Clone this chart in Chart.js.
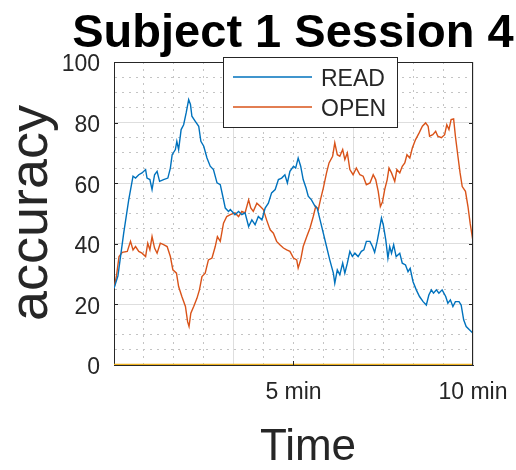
<!DOCTYPE html>
<html><head><meta charset="utf-8">
<script src="https://cdn.jsdelivr.net/npm/chart.js@4.4.0/dist/chart.umd.min.js"></script>
<style>html,body{margin:0;padding:0;background:#fff;}canvas{display:block;}</style>
</head><body>
<canvas id="c" width="516" height="470"></canvas>
<script>
const chartTitle = 'Subject 1 Session 4';
const xTitle = 'Time';
const yTitle = 'accuracy';
const seriesNames = ['READ', 'OPEN'];
const xGridTicks = [0, 0.8333, 1.6667, 2.5, 3.3333, 4.1667, 5, 5.8333, 6.6667, 7.5, 8.3333, 9.1667, 10];
const xTickLabels = {5: '5 min', 10: '10 min'};
const yGridTicks = [0, 5, 10, 15, 20, 25, 30, 35, 40, 45, 50, 55, 60, 65, 70, 75, 80, 85, 90, 95, 100];
const yTickLabels = [0, 20, 40, 60, 80, 100];

const readT = [0.00,0.11,0.27,0.41,0.53,0.60,0.69,0.78,0.88,0.92,1.00,1.06,1.13,1.20,1.27,1.38,1.50,1.57,1.62,1.71,1.75,1.80,1.87,1.94,2.01,2.08,2.13,2.17,2.26,2.36,2.42,2.50,2.59,2.68,2.77,2.87,2.96,3.03,3.10,3.19,
3.24,3.37,3.47,3.56,3.65,3.75,3.84,3.93,4.02,4.12,4.21,4.30,4.39,4.49,4.58,4.67,4.76,4.83,4.90,5.00,5.06,5.13,5.20,5.27,5.35,5.41,5.50,5.60,5.66,5.74,5.83,5.92,6.01,6.11,6.15,6.22,6.29,6.37,6.43,6.50,
6.57,6.64,6.71,6.80,6.89,6.96,7.03,7.13,7.20,7.26,7.33,7.40,7.45,7.50,7.57,7.63,7.68,7.73,7.79,7.86,7.96,8.03,8.12,8.19,8.25,8.33,8.42,8.51,8.61,8.70,8.77,8.84,8.90,8.98,9.05,9.14,9.24,9.30,9.37,9.44,9.51,9.61,9.67,9.74,9.81,9.90,10.00];
const readV = [25.3,29.4,43.5,54.5,62.3,61.7,62.8,63.4,64.5,61.7,61.2,57.9,62.8,63.9,60.6,61.2,61.7,65,69.4,71.1,73.8,71.1,77.7,79.3,83.2,87.6,86,82.1,80.5,78.8,73.8,72.2,68.3,65.6,64.5,60.1,59.5,55.7,51.8,50.7,
51.3,49.6,50.7,49.6,50.2,45.7,47.9,46.3,49,47.9,51.8,53.4,56.8,57.9,61.2,61.7,62.8,60.1,63.9,65.6,65,68.3,65.6,61.2,58.4,55.7,54.5,52.4,51.8,47.9,43.5,39.1,34.7,30.3,27,31.4,29.8,33.6,30.3,33.6,
37.5,35.8,36.9,35.8,37.5,38,40.8,40.8,39.1,37.2,40.8,45.2,48.5,46.3,41.3,35.3,39.1,36.9,39.7,35.8,36.9,33.6,33,30.8,31.9,27.5,24.8,22.6,20.9,19.8,23.1,24.8,23.7,24.8,23.7,24.8,22.6,20.4,21.5,19.3,20.9,20.9,19.8,14.9,12.7,11.6,10.5];

const openT = [0.00,0.07,0.14,0.23,0.37,0.46,0.53,0.60,0.69,0.78,0.88,0.94,1.00,1.06,1.13,1.20,1.29,1.38,1.48,1.57,1.64,1.74,1.80,1.89,1.99,2.05,2.09,2.14,2.22,2.31,2.38,2.45,2.54,2.63,2.73,2.82,2.88,2.96,3.05,3.14,
3.24,3.37,3.47,3.56,3.65,3.75,3.81,3.88,3.98,4.07,4.16,4.25,4.35,4.44,4.53,4.62,4.72,4.81,4.90,5.00,5.09,5.13,5.20,5.27,5.37,5.46,5.55,5.62,5.69,5.75,5.83,5.92,5.99,6.09,6.15,6.22,6.29,6.37,6.43,6.50,
6.57,6.66,6.75,6.85,6.94,7.03,7.13,7.22,7.29,7.36,7.42,7.48,7.54,7.61,7.66,7.73,7.82,7.88,7.96,8.03,8.10,8.16,8.24,8.31,8.40,8.50,8.59,8.68,8.75,8.79,8.88,8.96,9.02,9.12,9.21,9.27,9.33,9.39,9.46,9.51,9.58,9.64,9.70,9.79,9.86,9.92,10.00];
const openV = [25.3,29.5,35.8,37.2,37.5,40.8,38,39.1,37.5,36.9,35.8,40.2,38,42.4,38.6,36.9,40.2,39.7,39.1,35.8,31.4,30.3,25.9,22.6,19.3,14.3,12.7,17.1,19.3,22,24.8,29.2,30.3,34.7,35.3,39.1,42.4,40.8,46.8,49,
49.6,50.2,49,50.7,50.2,54.5,51.8,50.7,53.4,52.4,51.3,47.9,44.6,43.5,40.8,39.7,38.6,38,37.5,35.3,34.7,32,34.7,39.1,42.4,45.2,49,52.4,51.3,54.5,58.4,63.4,66.7,68.9,73.3,69.4,68.9,71.1,67.8,70,
64.5,62.8,65,62.8,62.3,59.5,60.1,62.8,61.2,57.3,52.3,53.9,57.9,61.2,65,63.4,60.6,64.5,63.4,65.6,66.7,69.4,68.3,71.6,74.4,76.6,78.8,79.9,78.8,75.5,76,77.1,75.5,75,76,79.3,77.7,81,81.2,75.5,68.9,63.4,58.9,57.3,52.3,46.8,40.8];

const baseT = [0, 10];
const baseV = [0, 0];

const FONT = '"Liberation Sans", Arial, Helvetica, sans-serif';
const AX = '#262626';
const toPts = (t, v) => t.map((tt, i) => ({x: tt, y: v[i]}));

const dashFor = (every) => (ctx) => (ctx.type === 'tick' && ctx.index % every !== 0) ? [2, 5] : [];
const gridColor = (every) => (ctx) => (ctx.index % every === 0) ? '#dedede' : '#c4c4c4';

const decor = {
  id: 'decor',
  afterDatasetsDraw(chart) {
    const {ctx, chartArea: a, scales: {x, y}} = chart;
    ctx.save();
    ctx.strokeStyle = AX; ctx.lineWidth = 1;
    ctx.beginPath();
    ctx.moveTo(a.left, a.top + 0.5); ctx.lineTo(a.right, a.top + 0.5);
    ctx.moveTo(a.right - 0.5, a.top); ctx.lineTo(a.right - 0.5, a.bottom);
    yTickLabels.forEach(v => {
      const py = Math.round(y.getPixelForValue(v)) + 0.5;
      ctx.moveTo(a.left, py); ctx.lineTo(a.left + 4, py);
      ctx.moveTo(a.right, py); ctx.lineTo(a.right - 4, py);
    });
    Object.keys(xTickLabels).forEach(k => {
      const px = Math.round(x.getPixelForValue(+k)) - 0.5;
      ctx.moveTo(px, a.bottom); ctx.lineTo(px, a.bottom - 4);
      ctx.moveTo(px, a.top); ctx.lineTo(px, a.top + 4);
    });
    ctx.stroke();
    ctx.restore();
  },
  afterDraw(chart) {
    const {ctx, chartArea: a} = chart;
    ctx.save();
    // legend
    const lx = 223, ly = 57, lw = 174, lh = 70;
    ctx.fillStyle = '#fff';
    ctx.fillRect(lx, ly, lw, lh);
    ctx.strokeStyle = AX; ctx.lineWidth = 1;
    ctx.strokeRect(lx + 0.5, ly + 0.5, lw, lh);
    ctx.font = '23px ' + FONT;
    ctx.textBaseline = 'alphabetic'; ctx.textAlign = 'left';
    [0, 1].forEach(i => {
      const ds = chart.data.datasets[i];
      const cy = 77 + i * 30;
      ctx.strokeStyle = ds.borderColor; ctx.lineWidth = 1.4;
      ctx.beginPath(); ctx.moveTo(233, cy); ctx.lineTo(312, cy); ctx.stroke();
      ctx.fillStyle = AX;
      ctx.fillText(ds.label, 321, cy + 9);
    });
    // titles
    ctx.fillStyle = '#000';
    ctx.textAlign = 'center';
    ctx.font = 'bold 47px ' + FONT;
    ctx.fillText(chartTitle, 293, 47);
    ctx.fillStyle = AX;
    ctx.font = '44px ' + FONT;
    ctx.fillText(xTitle, 308, 460);
    ctx.font = '54px ' + FONT;
    ctx.translate(47, 213);
    ctx.rotate(-Math.PI / 2);
    ctx.fillText(yTitle, 0, 0);
    ctx.restore();
  }
};

new Chart(document.getElementById('c'), {
  type: 'line',
  data: {
    datasets: [
      {label: seriesNames[0], data: toPts(readT, readV), borderColor: '#0072BD', borderWidth: 1.4},
      {label: seriesNames[1], data: toPts(openT, openV), borderColor: '#D95319', borderWidth: 1.4},
      {label: '', data: toPts(baseT, baseV), borderColor: '#EDB120', borderWidth: 2.5}
    ]
  },
  options: {
    responsive: false,
    animation: false,
    devicePixelRatio: 1,
    layout: {padding: {left: 0, right: 43, top: 62, bottom: 0}},
    elements: {point: {radius: 0}, line: {tension: 0}},
    plugins: {legend: {display: false}, title: {display: false}, tooltip: {enabled: false}},
    scales: {
      x: {
        type: 'linear', min: 0, max: 10,
        afterFit: s => { s.height = 105; s.paddingLeft = 0; s.paddingRight = 0; },
        afterBuildTicks: s => { s.ticks = xGridTicks.map(v => ({value: v})); },
        ticks: {autoSkip: false, maxRotation: 0, padding: 14, color: AX,
          font: {family: FONT, size: 23},
          callback: v => xTickLabels[v] || ''},
        grid: {drawTicks: false, color: gridColor(4), lineWidth: 1},
        border: {display: true, color: AX, width: 1, dash: dashFor(4)}
      },
      y: {
        type: 'linear', min: 0, max: 100,
        afterFit: s => { s.width = 114; s.paddingTop = 0; s.paddingBottom = 0; },
        afterBuildTicks: s => { s.ticks = yGridTicks.map(v => ({value: v})); },
        ticks: {autoSkip: false, padding: 14, labelOffset: 3, color: AX,
          font: {family: FONT, size: 23},
          callback: v => yTickLabels.includes(v) ? String(v) : ''},
        grid: {drawTicks: false, color: gridColor(4), lineWidth: 1},
        border: {display: true, color: AX, width: 1, dash: dashFor(4)}
      }
    }
  },
  plugins: [decor]
});
</script>
</body></html>
